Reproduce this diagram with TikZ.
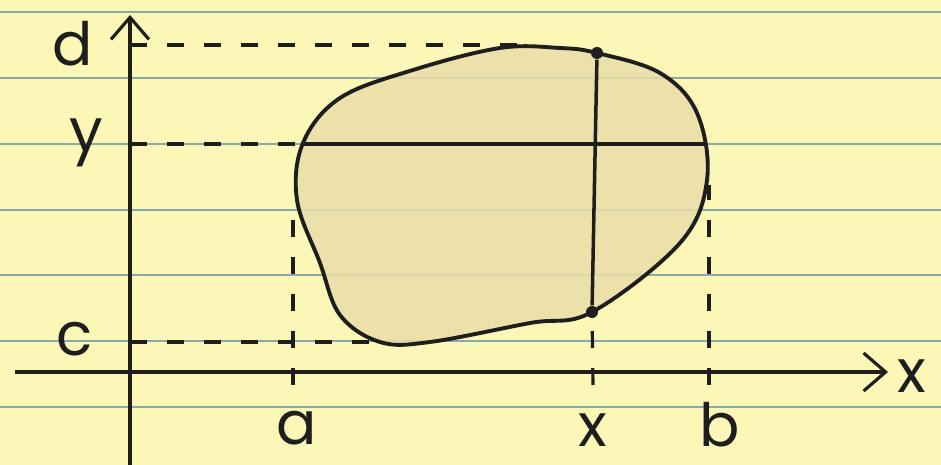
\documentclass[tikz,border=0pt]{standalone}
\usepackage{fontspec}
\setmainfont{Poppins}
\usetikzlibrary{arrows.meta}
\definecolor{paper}{RGB}{252,247,182}
\definecolor{ruling}{RGB}{135,172,168}
\definecolor{blob}{RGB}{234,222,168}
\definecolor{ink}{RGB}{30,30,30}

\begin{document}
\begin{tikzpicture}[x=0.1mm,y=-0.1mm,
  guide/.style={ink,dash pattern=on 1.7mm off 2mm,line width=0.9pt},
  axis/.style={ink,line width=0.9pt,-{Straight Barb[length=2.2mm,width=3.8mm]}},
  lab/.style={ink,anchor=base,inner sep=0pt,font=\fontsize{17}{19}\selectfont},
  pt/.style={circle,fill=ink,inner sep=0pt,minimum size=1.2mm}]
\fill [paper] (0,0) rectangle (941,465);
\useasboundingbox (0,0) rectangle (941,465);
\foreach \ry in {12,78,144,210,275,341,407}
  \draw [ruling,line width=0.6pt] (0,\ry) -- (941,\ry);
\fill [blob,opacity=0.85] plot [smooth cycle,tension=0.6] coordinates {(597,53) (660,73) (697,113) (707,180) (680,243) (592,312) (530,323) (430,342) (380,342) (340,315) (320,263) (297,200) (303,143) (340,98) (413,70) (500,48) (560,48)};
\draw [ink,line width=1.1pt] plot [smooth cycle,tension=0.6] coordinates {(597,53) (660,73) (697,113) (707,180) (680,243) (592,312) (530,323) (430,342) (380,342) (340,315) (320,263) (297,200) (303,143) (340,98) (413,70) (500,48) (560,48)};
\node [pt] (top) at (597,53) {};
\node [pt] (bot) at (592,312) {};
\coordinate (ybot) at (130,465);
\coordinate (ytop) at (130,15);
\coordinate (xleft) at (15,372);
\coordinate (xright) at (888,372);
\coordinate (dA) at (130,45);
\coordinate (dB) at (525,45);
\coordinate (yA) at (130,144);
\coordinate (yB) at (303,144);
\coordinate (yC) at (706,144);
\coordinate (cA) at (130,342);
\coordinate (cB) at (385,342);
\coordinate (aA) at (293,385);
\coordinate (aB) at (293,212);
\coordinate (xA) at (593,385);
\coordinate (bA) at (709,385);
\coordinate (bB) at (709,185);
\draw [axis] (ybot) -- (ytop);
\draw [axis] (xleft) -- (xright);
\draw [guide] (dA) -- (dB);
\draw [guide] (yA) -- (yB);
\draw [ink,line width=1pt] (yB) -- (yC);
\draw [guide] (cA) -- (cB);
\draw [guide] (aA) -- (aB);
\draw [guide] (xA) -- (bot);
\draw [guide] (bA) -- (bB);
\draw [ink,line width=1pt] (top) -- (bot);
\node [lab] (dlab) at (73,66) {d};
\node [lab] (ylab) at (86,152) {y};
\node [lab] (clab) at (75,355) {c};
\node [lab] (alab) at (297,444) {a};
\node [lab] (xlab) at (593,446) {x};
\node [lab] (blab) at (720,446) {b};
\node [lab] (Xlab) at (912,392) {x};
\end{tikzpicture}
\end{document}
